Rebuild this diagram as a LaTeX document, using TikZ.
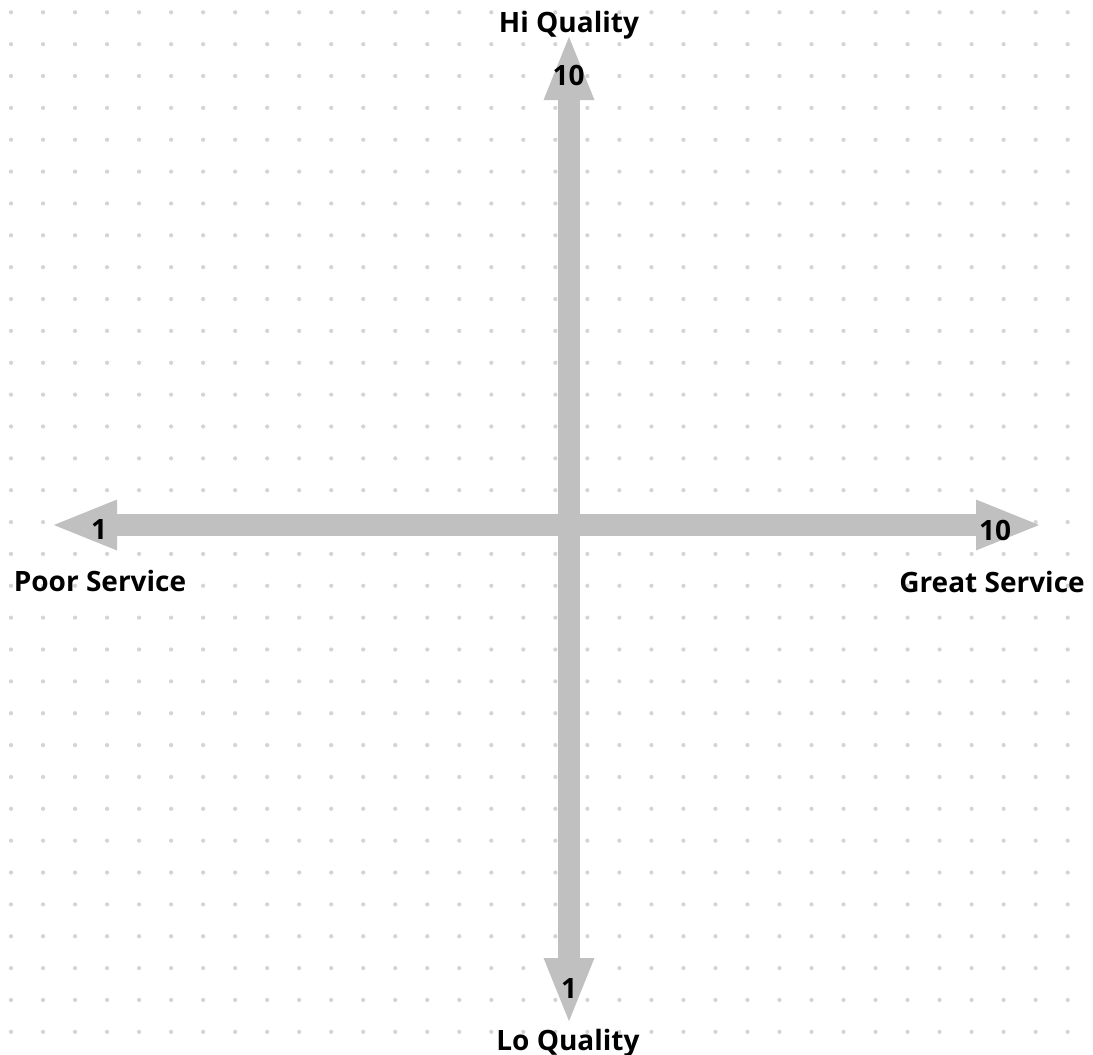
\documentclass[tikz,border=0pt]{standalone}
\usepackage{fontspec}
\setmainfont{Open Sans}
\usetikzlibrary{arrows.meta}
\definecolor{axisgray}{HTML}{C0C0C0}
\definecolor{dotgray}{HTML}{D4D4D4}
\tikzset{
  axis/.style={axisgray, line width=22.5pt, {Triangle[length=67pt,width=45pt]}-{Triangle[length=67pt,width=45pt]}},
  title/.style={font=\fontsize{28}{30}\selectfont\bfseries, anchor=base, inner sep=0pt},
  tick/.style={font=\fontsize{28}{30}\selectfont\bfseries, anchor=base, inner sep=0pt},
  griddot/.style={fill=dotgray, draw=none}
}
\begin{document}
\begin{tikzpicture}[x=1pt, y=-1pt]
  \useasboundingbox (0,0) rectangle (1093,1055);
  \fill[white] (0,0) rectangle (1093,1055);
  % dotted paper
  \foreach \i in {0,...,33}{
    \foreach \j in {0,...,32}{
      \fill[griddot] ({11+32.02*\i},{12.3+31.86*\j}) circle (2.1pt);
    }
  }
  % axis end points
  \coordinate (top) at (569,33);
  \coordinate (bottom) at (569,1025);
  \coordinate (left) at (50,525);
  \coordinate (right) at (1043,525);
  % axes
  \draw[axis] (bottom) -- (top);
  \draw[axis] (left) -- (right);
  % axis titles
  \node[title] (hi) at (569,32.3) {Hi Quality};
  \node[title] (lo) at (568,1050) {Lo Quality};
  \node[title] (poor) at (100,591.7) {Poor Service};
  \node[title] (great) at (992,592) {Great Service};
  % scale values
  \node[tick] (t10) at (568.5,85) {10};
  \node[tick] (b1) at (569,998) {1};
  \node[tick] (l1) at (99,539) {1};
  \node[tick] (r10) at (995,540) {10};
\end{tikzpicture}
\end{document}
